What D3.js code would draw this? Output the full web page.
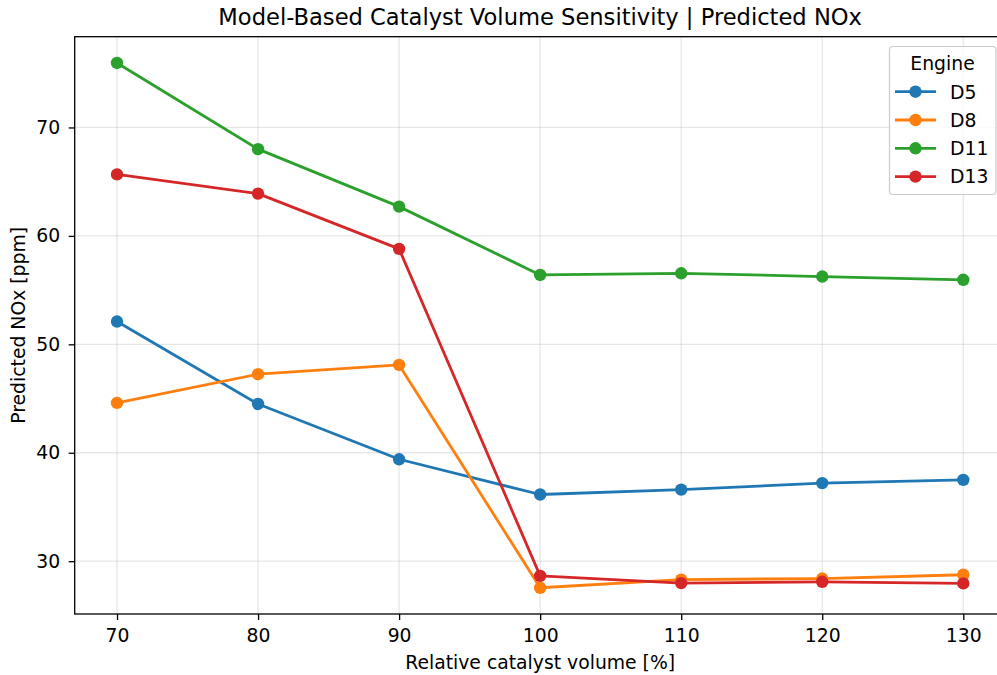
<!DOCTYPE html>
<html>
<head>
<meta charset="utf-8">
<script src="https://cdn.jsdelivr.net/npm/d3@7"></script>
<style>
  html, body { margin: 0; padding: 0; background: #fff; }
  svg { display: block; font-family: "DejaVu Sans", sans-serif; }
</style>
</head>
<body>
<svg id="chart" width="997" height="675"></svg>
<script>
// Relative catalyst volume steps [%]
const volumes = [70, 80, 90, 100, 110, 120, 130];
const engines = ["D5", "D8", "D11", "D13"];

// Predicted NOx [ppm] per engine
const noxD5  = [52.1, 44.5, 39.4, 36.15, 36.6, 37.2, 37.5];
const noxD8  = [44.6, 47.25, 48.1, 27.55, 28.3, 28.4, 28.75];
const noxD11 = [75.95, 68.0, 62.7, 56.4, 56.55, 56.25, 55.95];
const noxD13 = [65.67, 63.9, 58.8, 28.65, 27.98, 28.1, 27.95];

const xTicks = [70, 80, 90, 100, 110, 120, 130];
const yTicks = [30, 40, 50, 60, 70];

const colors = ["#1f77b4", "#ff7f0e", "#2ca02c", "#d62728"];
const seriesValues = [noxD5, noxD8, noxD11, noxD13];

const FS = 18.8;

const svg = d3.select("#chart");
const margin = { left: 74.7, top: 36.7, right: 1005.6, bottom: 614 };

// matplotlib-style 5% padding around the data range
const allY = seriesValues.flat();
const yMin = d3.min(allY), yMax = d3.max(allY);
const yPad = (yMax - yMin) * 0.05;
const xPad = (d3.max(volumes) - d3.min(volumes)) * 0.05;

const x = d3.scaleLinear()
  .domain([d3.min(volumes) - xPad, d3.max(volumes) + xPad])
  .range([margin.left, margin.right]);
const y = d3.scaleLinear()
  .domain([yMin - yPad, yMax + yPad])
  .range([margin.bottom, margin.top]);

// grid
const grid = svg.append("g");
grid.selectAll("line.gx").data(xTicks).join("line")
  .attr("x1", d => x(d)).attr("x2", d => x(d))
  .attr("y1", margin.top).attr("y2", margin.bottom)
  .attr("stroke", "#b0b0b0").attr("stroke-opacity", 0.3).attr("stroke-width", 1.3);
grid.selectAll("line.gy").data(yTicks).join("line")
  .attr("y1", d => y(d)).attr("y2", d => y(d))
  .attr("x1", margin.left).attr("x2", margin.right)
  .attr("stroke", "#b0b0b0").attr("stroke-opacity", 0.3).attr("stroke-width", 1.3);

// series
const line = d3.line().x((d, i) => x(volumes[i])).y(d => y(d));
seriesValues.forEach((vals, k) => {
  const g = svg.append("g");
  g.append("path").datum(vals)
    .attr("d", line)
    .attr("fill", "none")
    .attr("stroke", colors[k])
    .attr("stroke-width", 2.8)
    .attr("stroke-linejoin", "round");
  g.selectAll("circle").data(vals).join("circle")
    .attr("cx", (d, i) => x(volumes[i]))
    .attr("cy", d => y(d))
    .attr("r", 6.2)
    .attr("fill", colors[k]);
});

// axes
const xAxis = d3.axisBottom(x).tickValues(xTicks).tickSize(6).tickPadding(8.5);
const yAxis = d3.axisLeft(y).tickValues(yTicks).tickSize(6).tickPadding(8.5);

const gx = svg.append("g").attr("transform", `translate(0,${margin.bottom})`).call(xAxis);
const gy = svg.append("g").attr("transform", `translate(${margin.left},0)`).call(yAxis);
[gx, gy].forEach(g => {
  g.select(".domain").remove();
  g.selectAll(".tick line").attr("stroke", "#000").attr("stroke-width", 1.3);
  g.selectAll(".tick text").attr("fill", "#000")
    .style("font-size", FS + "px").style("font-family", "DejaVu Sans, sans-serif");
});

// spines
svg.append("rect")
  .attr("x", margin.left).attr("y", margin.top)
  .attr("width", margin.right - margin.left)
  .attr("height", margin.bottom - margin.top)
  .attr("fill", "none").attr("stroke", "#000").attr("stroke-width", 1.3);

// titles
svg.append("text")
  .attr("x", (margin.left + margin.right) / 2).attr("y", 25)
  .attr("text-anchor", "middle")
  .style("font-size", "22.6px")
  .text("Model-Based Catalyst Volume Sensitivity | Predicted NOx");

svg.append("text")
  .attr("x", (margin.left + margin.right) / 2).attr("y", 669)
  .attr("text-anchor", "middle")
  .style("font-size", FS + "px")
  .text("Relative catalyst volume [%]");

svg.append("text")
  .attr("transform", `translate(25,${(margin.top + margin.bottom) / 2}) rotate(-90)`)
  .attr("text-anchor", "middle")
  .style("font-size", FS + "px")
  .text("Predicted NOx [ppm]");

// legend
const lg = svg.append("g");
lg.append("rect")
  .attr("x", 889.5).attr("y", 46.5)
  .attr("width", 106.5).attr("height", 148)
  .attr("rx", 3.5)
  .attr("fill", "#fff").attr("fill-opacity", 0.8)
  .attr("stroke", "#cccccc").attr("stroke-width", 1.2);
lg.append("text")
  .attr("x", 942.5).attr("y", 70)
  .attr("text-anchor", "middle")
  .style("font-size", FS + "px")
  .text("Engine");
engines.forEach((name, k) => {
  const cy = 91.7 + k * 28.3;
  lg.append("line")
    .attr("x1", 895).attr("x2", 936)
    .attr("y1", cy).attr("y2", cy)
    .attr("stroke", colors[k]).attr("stroke-width", 2.8);
  lg.append("circle")
    .attr("cx", 915.5).attr("cy", cy).attr("r", 6.2)
    .attr("fill", colors[k]);
  lg.append("text")
    .attr("x", 950).attr("y", cy + 6.8)
    .style("font-size", FS + "px")
    .text(name);
});
</script>
</body>
</html>
